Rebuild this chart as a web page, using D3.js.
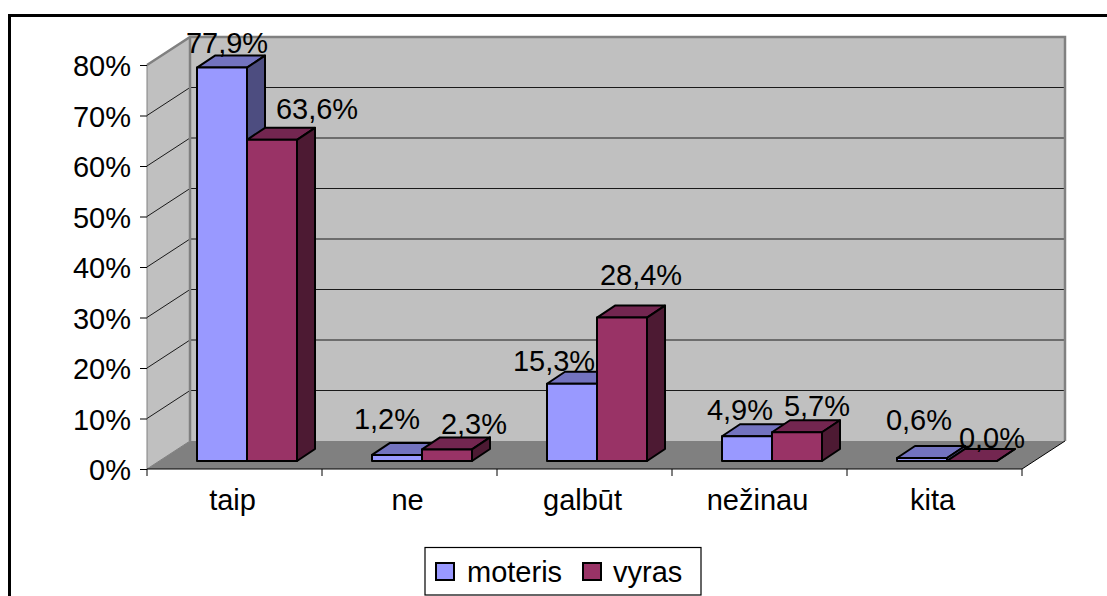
<!DOCTYPE html>
<html><head><meta charset="utf-8">
<script src="https://cdn.jsdelivr.net/npm/d3@7"></script>
<style>html,body{margin:0;padding:0;background:#fff;overflow:hidden}svg{display:block}
text{font-family:"Liberation Sans",Arial,sans-serif;font-size:29px;fill:#000}</style>
</head><body><svg id="c" width="1107" height="596"></svg>
<script>
const categories = ["taip","ne","galbūt","nežinau","kita"];
const seriesNames = ["moteris","vyras"];
const moteris = [77.9,1.2,15.3,4.9,0.6];
const vyras = [63.6,2.3,28.4,5.7,0.0];
const yTicks = [0,10,20,30,40,50,60,70,80];
const seriesValues = [moteris,vyras];

// layout only
const fill = ["#9999ff","#993366"], top_ = ["#7373bf","#732650"], side = ["#4d4d80","#4d1a33"];
const labelShift = [ // dx from bar centre, baseline above bar top
  [[5,15],[45,21]],[[-10,26],[27,15]],[[-18,13],[19,33]],[[-7,16],[20,16]],[[-3,28],[20,13]]
];
const wallDx=43, wallDy=-28, barDx=18, barDy=-12;
const svg=d3.select("#c");
svg.append("path").attr("d","M9.5,596V15.5H1107").attr("fill","none").attr("stroke","#000").attr("stroke-width",3);

const y=d3.scaleLinear().domain([0,80]).range([469,65]);
const x=d3.scaleBand().domain(categories).range([147,1022]);
const inner=d3.scaleBand().domain(seriesNames).range([50,150]);
const L=147,R=1022,B=y(0),T=y(80);
const poly=p=>"M"+p.map(a=>a.join(",")).join("L")+"Z";

svg.append("path").attr("d",poly([[L+wallDx,T+wallDy],[R+wallDx,T+wallDy],[R+wallDx,B+wallDy],[L+wallDx,B+wallDy]]))
  .attr("fill","#c0c0c0");
svg.append("path").attr("d",poly([[L,T],[L+wallDx,T+wallDy],[L+wallDx,B+wallDy],[L,B]]))
  .attr("fill","#c0c0c0").attr("stroke","#808080").attr("stroke-width",1);
svg.append("path").attr("d",poly([[L,B],[L+wallDx,B+wallDy],[R+wallDx,B+wallDy],[R,B]])).attr("fill","#808080");
// gridlines
yTicks.filter(t=>t>0&&t<80).forEach(t=>{
  svg.append("path").attr("d",`M${L},${y(t)}L${L+wallDx},${y(t)+wallDy}H${R+wallDx}`)
    .attr("fill","none").attr("stroke","#1a1a1a").attr("stroke-width",1);
});
// wall edges
svg.append("path").attr("d",`M${L},${T}L${L+wallDx},${T+wallDy}H${R+wallDx}V${B+wallDy}`)
  .attr("fill","none").attr("stroke","#808080").attr("stroke-width",2.5);
svg.append("line").attr("x1",L+wallDx).attr("x2",L+wallDx).attr("y1",T+wallDy).attr("y2",B+wallDy)
  .attr("stroke","#808080").attr("stroke-width",2.5);
svg.append("path").attr("d",`M${L},${B}H${R}L${R+wallDx},${B+wallDy}`).attr("fill","none").attr("stroke","#000").attr("stroke-width",1);

// axes
const ya=svg.append("g").attr("transform",`translate(${L},0)`)
  .call(d3.axisLeft(y).tickValues(yTicks).tickSize(7).tickPadding(9).tickFormat(d=>d+"%"));
ya.select(".domain").remove();
ya.selectAll("text").attr("dy",null).attr("y",10.5).attr("x",-16);
const xa=svg.append("g").attr("transform",`translate(0,${B})`)
  .call(d3.axisBottom(x).tickSize(0).tickPadding(0));
xa.select(".domain").remove();
xa.selectAll("text").attr("dy",null).attr("y",41).attr("x",-2);
svg.selectAll(".xt").data(categories.map(c=>x(c)).concat([R])).join("line").attr("class","xt")
  .attr("x1",d=>d).attr("x2",d=>d).attr("y1",B).attr("y2",B+7).attr("stroke","#000");

// bars
const base=y(0)-8;
const h=v=>y(0)-y(v);
const bars=[];
categories.forEach((c,i)=>seriesNames.forEach((s,j)=>bars.push({c,i,j,s,v:seriesValues[j][i]})));
const gb=svg.append("g").attr("stroke","#000").attr("stroke-width",2).attr("stroke-linejoin","round");
bars.forEach(b=>{
  const x0=x(b.c)+inner(b.s), w=inner.bandwidth(), t=base-h(b.v);
  gb.append("path").attr("d",poly([[x0,t],[x0+barDx,t+barDy],[x0+w+barDx,t+barDy],[x0+w,t]])).attr("fill",top_[b.j]);
  gb.append("path").attr("d",poly([[x0+w,t],[x0+w+barDx,t+barDy],[x0+w+barDx,base+barDy],[x0+w,base]])).attr("fill",side[b.j]);
  gb.append("rect").attr("x",x0).attr("y",t).attr("width",w).attr("height",base-t).attr("fill",fill[b.j]);
});
// labels
bars.forEach(b=>{
  const x0=x(b.c)+inner(b.s), w=inner.bandwidth(), t=base-h(b.v), o=labelShift[b.i][b.j];
  svg.append("text").attr("x",x0+w/2+o[0]).attr("y",t-o[1]).attr("text-anchor","middle")
    .text(b.v.toFixed(1).replace(".",",")+"%");
});
// legend
const lg=svg.append("g");
lg.append("rect").attr("x",425).attr("y",547.5).attr("width",276).attr("height",47.5).attr("fill","#fff").attr("stroke","#000").attr("stroke-width",1.2);
[[436,467],[583,613]].forEach((p,j)=>{
  lg.append("rect").attr("x",p[0]).attr("y",563).attr("width",18).attr("height",17).attr("fill",fill[j]).attr("stroke","#000").attr("stroke-width",2);
  lg.append("text").attr("x",p[1]).attr("y",582).text(seriesNames[j]);
});
</script></body></html>
